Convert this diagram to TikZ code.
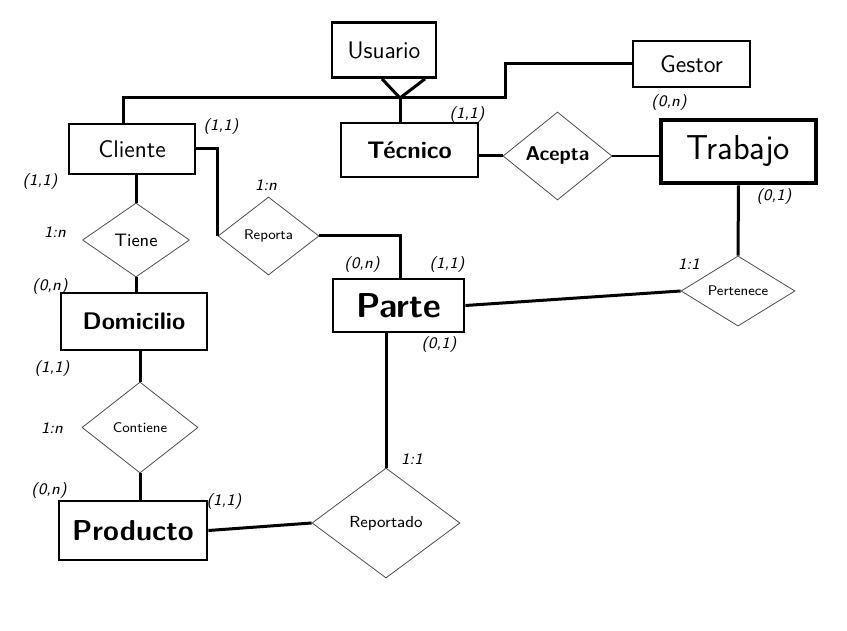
\documentclass[tikz,border=0pt]{standalone}
\usetikzlibrary{shapes.geometric}

\tikzset{
  entity/.style={draw, line width=1.4pt, inner sep=0pt, font=\sffamily},
  relation/.style={draw=black!70, line width=0.4pt, shape=diamond, inner sep=0pt, font=\sffamily},
  card/.style={font=\sffamily\itshape\footnotesize, inner sep=0pt},
  link/.style={line width=1.5pt},
  thinlink/.style={line width=0.7pt},
}

\begin{document}
\begin{tikzpicture}[x=0.5pt,y=-0.5pt]
\useasboundingbox (0,0) rectangle (847,631);

% Entities
\node[entity,minimum width=52pt,minimum height=27.5pt,font=\sffamily\large] (usu) at (384,50) {Usuario};
\node[entity,minimum width=58.5pt,minimum height=23pt,font=\sffamily\large] (ges) at (691.5,64) {Gestor};
\node[entity,minimum width=63pt,minimum height=25pt,font=\sffamily\large] (cli) at (132,149) {Cliente};
\node[entity,minimum width=68.5pt,minimum height=27pt,font=\sffamily\bfseries\large] (tec) at (409.5,150) {Técnico};
\node[entity,line width=2.4pt,minimum width=77.5pt,minimum height=31.5pt,font=\sffamily\LARGE] (tra) at (738.5,151.5) {Trabajo};
\node[entity,minimum width=65.5pt,minimum height=26.5pt,font=\sffamily\bfseries\LARGE] (par) at (398.5,305.5) {Parte};
\node[entity,minimum width=73pt,minimum height=28.5pt,font=\sffamily\bfseries\large] (dom) at (134,321.5) {Domicilio};
\node[entity,minimum width=74pt,minimum height=29.5pt,font=\sffamily\bfseries\Large] (pro) at (133,530.5) {Producto};

% Relations
\node[relation,minimum width=54.5pt,minimum height=44pt,font=\sffamily\bfseries] (ace) at (557.5,156) {Acepta};
\node[relation,minimum width=53.5pt,minimum height=37pt,font=\sffamily\small] (tie) at (136,240) {Tiene};
\node[relation,minimum width=50.5pt,minimum height=39pt,font=\sffamily\scriptsize] (rep) at (268.5,236) {Reporta};
\node[relation,minimum width=57pt,minimum height=35pt,font=\sffamily\scriptsize] (per) at (738,291) {Pertenece};
\node[relation,minimum width=58pt,minimum height=45.5pt,font=\sffamily\scriptsize] (con) at (140,427.5) {Contiene};
\node[relation,minimum width=74pt,minimum height=55pt,font=\sffamily\footnotesize] (rpd) at (386,523) {Reportado};

% ISA hierarchy
\coordinate (isa) at (400,98);
\coordinate (gbend) at (505,98);
\draw[link] ([xshift=-1pt]usu.south) -- (isa) -- ([xshift=20.5pt]usu.south);
\draw[link] (isa) -- (isa |- tec.north);
\draw[link] (isa) -| ([xshift=-4.5pt]cli.north);
\draw[link] (ges.west) -| (gbend) -- (isa);

% Links
\draw[link] (tie.north |- cli.south) -- (tie.north);
\draw[link] (tie.south) -- (tie.south |- dom.north);
\draw[link] (con.north |- dom.south) -- (con.north);
\draw[link] (con.south) -- (con.south |- pro.north);
\draw[link] (cli.east) -| (rep.west);
\draw[link] (rep.east) -| ([xshift=0.75pt]par.north);
\draw[link] (tec.east |- ace.west) -- (ace.west);
\draw[thinlink] (ace.east) -- (ace.east -| tra.west);
\draw[link] (tra.south) -- (per.north);
\draw[link] (per.west) -- (par.east);
\draw[link] (rpd.north |- par.south) -- (rpd.north);
\draw[link] (rpd.west) -- (pro.east);

% Cardinalities
\node[card] (c1) at (221,127) {(1,1)};
\node[card] (c2) at (40,181) {(1,1)};
\node[card] (c3) at (266,185) {1:n};
\node[card] (c4) at (55,232) {1:n};
\node[card] (c5) at (50,287) {(0,n)};
\node[card] (c6) at (52,368) {(1,1)};
\node[card] (c7) at (52,428) {1:n};
\node[card] (c8) at (49,490) {(0,n)};
\node[card] (c9) at (224,501) {(1,1)};
\node[card] (c10) at (467,115) {(1,1)};
\node[card] (c11) at (669,103) {(0,n)};
\node[card] (c12) at (774,197) {(0,1)};
\node[card] (c13) at (362,265) {(0,n)};
\node[card] (c14) at (447,265) {(1,1)};
\node[card] (c15) at (439,344) {(0,1)};
\node[card] (c16) at (689,264) {1:1};
\node[card] (c17) at (412,459) {1:1};

\end{tikzpicture}
\end{document}
